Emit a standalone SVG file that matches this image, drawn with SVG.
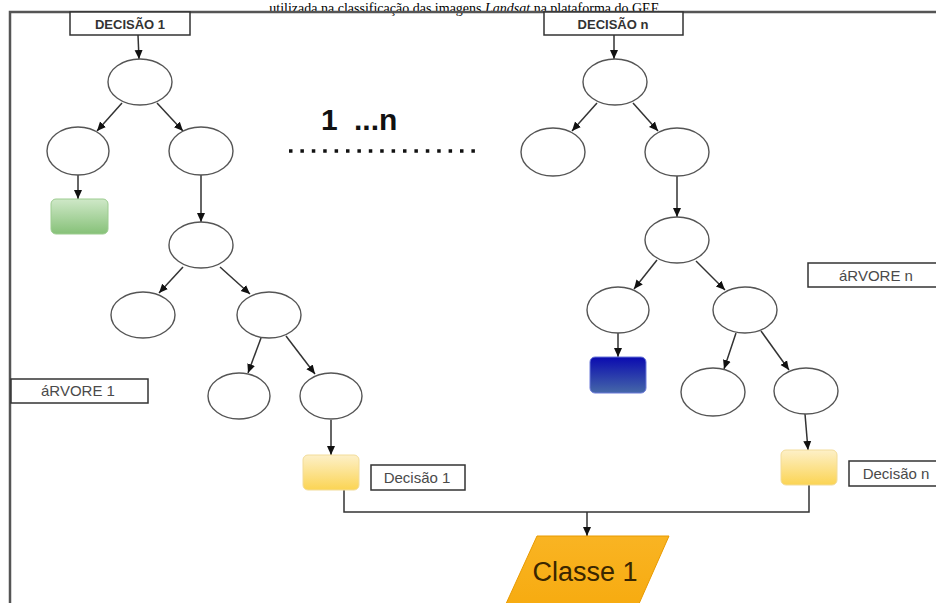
<svg xmlns="http://www.w3.org/2000/svg" width="936" height="603" viewBox="0 0 936 603">
<style>
.frame{fill:none;stroke:#555;stroke-width:2.5}
.lbl{fill:#fff;stroke:#333;stroke-width:1.5}
.node{fill:#fff;stroke:#555;stroke-width:1.4}
.edge{fill:none;stroke:#333;stroke-width:1.5}
.lt{font-family:"Liberation Sans",Arial,sans-serif;font-size:15px;fill:#4a4a4a;text-anchor:middle}
.lb{font-family:"Liberation Sans",Arial,sans-serif;font-size:13px;font-weight:bold;fill:#333;text-anchor:middle}
</style>
<defs>
<marker id="ah" markerUnits="userSpaceOnUse" markerWidth="10" markerHeight="10" refX="9" refY="5" orient="auto">
<path d="M0,1 L9,5 L0,9 z" fill="#111"/>
</marker>
<linearGradient id="gGreen" x1="0" y1="0" x2="0" y2="1"><stop offset="0" stop-color="#cfe8c8"/><stop offset="1" stop-color="#86c178"/></linearGradient>
<linearGradient id="gBlue" x1="0" y1="0" x2="0" y2="1"><stop offset="0" stop-color="#0a0ab0"/><stop offset="1" stop-color="#4668a8"/></linearGradient>
<linearGradient id="gYellow" x1="0" y1="0" x2="0" y2="1"><stop offset="0" stop-color="#fdf0c8"/><stop offset="1" stop-color="#fbd453"/></linearGradient>
<linearGradient id="gOrange" x1="0" y1="0" x2="0" y2="1"><stop offset="0" stop-color="#f9b423"/><stop offset="1" stop-color="#f7ab10"/></linearGradient>
</defs>
<text x="466" y="12.5" font-family="'Liberation Serif','Times New Roman',serif" font-size="14" fill="#000" text-anchor="middle">utilizada na classificação das imagens <tspan font-style="italic">Landsat</tspan> na plataforma do GEE.</text>
<path class="frame" d="M10,603 V12 H936"/>
<g id="connectors">
<line class="edge" x1="138" y1="35" x2="139" y2="59" marker-end="url(#ah)"/>
<line class="edge" x1="122" y1="103" x2="97" y2="131" marker-end="url(#ah)"/>
<line class="edge" x1="157" y1="103" x2="183" y2="131" marker-end="url(#ah)"/>
<line class="edge" x1="78" y1="175" x2="78" y2="199" marker-end="url(#ah)"/>
<line class="edge" x1="201" y1="175" x2="201" y2="222" marker-end="url(#ah)"/>
<line class="edge" x1="183" y1="267" x2="159" y2="293" marker-end="url(#ah)"/>
<line class="edge" x1="220" y1="267" x2="250" y2="294" marker-end="url(#ah)"/>
<line class="edge" x1="261" y1="338" x2="248" y2="373" marker-end="url(#ah)"/>
<line class="edge" x1="286" y1="336" x2="315" y2="374" marker-end="url(#ah)"/>
<line class="edge" x1="331" y1="420" x2="331" y2="455" marker-end="url(#ah)"/>
<line class="edge" x1="614" y1="35" x2="614" y2="59" marker-end="url(#ah)"/>
<line class="edge" x1="597" y1="103" x2="572" y2="131" marker-end="url(#ah)"/>
<line class="edge" x1="633" y1="103" x2="658" y2="131" marker-end="url(#ah)"/>
<line class="edge" x1="677" y1="176" x2="677" y2="217" marker-end="url(#ah)"/>
<line class="edge" x1="657" y1="260" x2="634" y2="289" marker-end="url(#ah)"/>
<line class="edge" x1="696" y1="261" x2="725" y2="290" marker-end="url(#ah)"/>
<line class="edge" x1="618" y1="333" x2="618" y2="357" marker-end="url(#ah)"/>
<line class="edge" x1="736" y1="333" x2="724" y2="369" marker-end="url(#ah)"/>
<line class="edge" x1="761" y1="331" x2="789" y2="370" marker-end="url(#ah)"/>
<line class="edge" x1="805" y1="414" x2="808" y2="450" marker-end="url(#ah)"/>
<path class="edge" d="M344,490 V512 H809 V485"/>
<line class="edge" x1="587" y1="512" x2="587" y2="536" marker-end="url(#ah)"/>
</g>
<g id="decisao1"><rect class="lbl" x="70" y="12" width="120" height="23"/><text class="lb" x="130" y="29">DECISÃO 1</text></g>
<g id="decisaon"><rect class="lbl" x="544" y="12" width="139" height="23"/><text class="lb" x="613" y="29">DECISÃO n</text></g>
<g id="t1n1"><ellipse class="node" cx="140" cy="82" rx="32" ry="23"/></g>
<g id="t1n2"><ellipse class="node" cx="78" cy="151" rx="31" ry="24"/></g>
<g id="t1n3"><ellipse class="node" cx="201" cy="151" rx="32" ry="24"/></g>
<g id="t1leafGreen"><rect x="51" y="199" width="57" height="35" rx="5" fill="url(#gGreen)" stroke="#9ccc90" stroke-width="1"/></g>
<g id="t1n4"><ellipse class="node" cx="201" cy="245" rx="32" ry="23"/></g>
<g id="t1n5"><ellipse class="node" cx="143" cy="315" rx="32" ry="23"/></g>
<g id="t1n6"><ellipse class="node" cx="269" cy="315" rx="32" ry="23"/></g>
<g id="t1n7"><ellipse class="node" cx="239" cy="396" rx="31" ry="23"/></g>
<g id="t1n8"><ellipse class="node" cx="331" cy="396" rx="31" ry="23"/></g>
<g id="t1leafYellow"><rect x="303" y="455" width="56" height="35" rx="5" fill="url(#gYellow)" stroke="#f2dc9a" stroke-width="1"/></g>
<g id="arvore1"><rect class="lbl" x="11" y="379" width="137" height="24"/><text class="lt" x="78" y="396">áRVORE 1</text></g>
<g id="decisao1lbl"><rect class="lbl" x="371" y="465" width="94" height="25"/><text class="lt" x="417" y="483">Decisão 1</text></g>
<g id="tnn1"><ellipse class="node" cx="615" cy="82" rx="32" ry="23"/></g>
<g id="tnn2"><ellipse class="node" cx="553" cy="152" rx="32" ry="24"/></g>
<g id="tnn3"><ellipse class="node" cx="677" cy="152" rx="32" ry="24"/></g>
<g id="tnn4"><ellipse class="node" cx="677" cy="240" rx="32" ry="23"/></g>
<g id="tnn5"><ellipse class="node" cx="618" cy="310" rx="31" ry="23"/></g>
<g id="tnn6"><ellipse class="node" cx="745" cy="310" rx="32" ry="23"/></g>
<g id="tnleafBlue"><rect x="590" y="357" width="56" height="36" rx="5" fill="url(#gBlue)" stroke="#6a78d8" stroke-width="1"/></g>
<g id="tnn7"><ellipse class="node" cx="713" cy="392" rx="32" ry="24"/></g>
<g id="tnn8"><ellipse class="node" cx="806" cy="391" rx="32" ry="23"/></g>
<g id="tnleafYellow"><rect x="781" y="450" width="56" height="35" rx="5" fill="url(#gYellow)" stroke="#f2dc9a" stroke-width="1"/></g>
<g id="arvoren"><rect class="lbl" x="808" y="263" width="140" height="24"/><text class="lt" x="876" y="281">áRVORE n</text></g>
<g id="decisaonlbl"><rect class="lbl" x="849" y="461" width="100" height="25"/><text class="lt" x="896" y="479">Decisão n</text></g>
<g id="range">
<text x="321" y="130" font-family="'Liberation Sans',Arial,sans-serif" font-size="30" font-weight="bold" fill="#111">1<tspan x="354">...n</tspan></text>
<line x1="289" y1="151" x2="476" y2="151" stroke="#111" stroke-width="3.5" stroke-dasharray="3.5 7.9"/>
</g>
<g id="classe1">
<polygon points="537,536 669,536 638,606 505,606" fill="url(#gOrange)" stroke="#e89a00" stroke-width="1"/>
<text x="585" y="581" font-family="'Liberation Sans',Arial,sans-serif" font-size="27" fill="#3a2600" text-anchor="middle">Classe 1</text>
</g>
</svg>
